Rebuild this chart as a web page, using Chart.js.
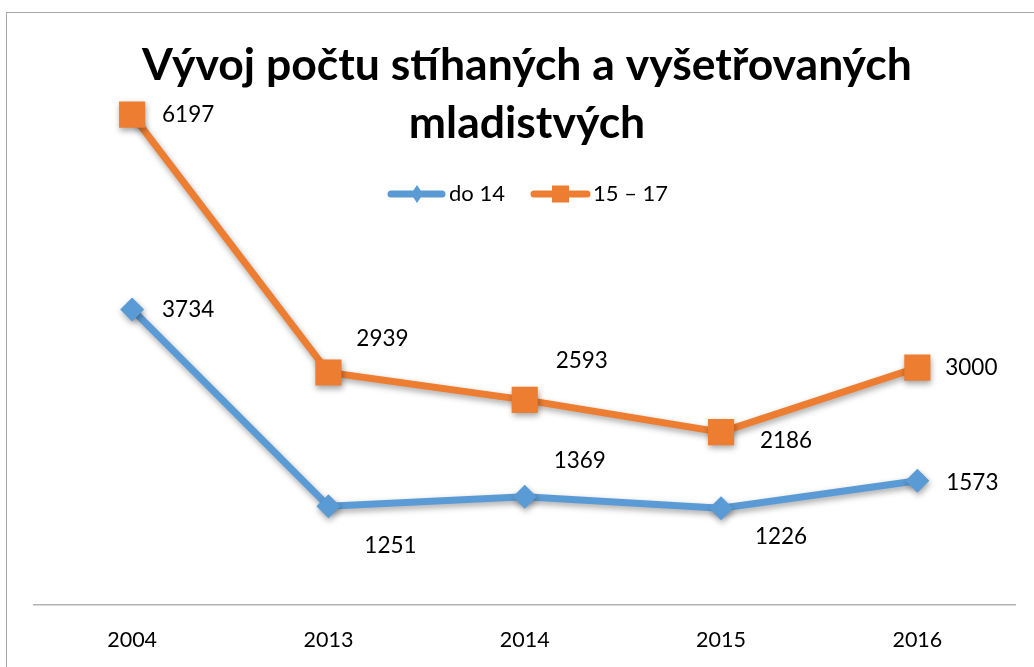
<!DOCTYPE html>
<html>
<head>
<meta charset="utf-8">
<script src="https://cdn.jsdelivr.net/npm/chart.js@4/dist/chart.umd.min.js"></script>
<style>
  html, body { margin: 0; padding: 0; background: #fff; }
  canvas { display: block; }
</style>
</head>
<body>
<canvas id="graf" width="1034" height="667"></canvas>
<script>
// Data
const roky = ["2004", "2013", "2014", "2015", "2016"];
const do14 = [3734, 1251, 1369, 1226, 1573];
const od15do17 = [6197, 2939, 2593, 2186, 3000];
const nazvySerii = ["do 14", "15 – 17"];
const titulek = ["Vývoj počtu stíhaných a vyšetřovaných", "mladistvých"];

// Barvy
const modra = "#5B9BD5";
const oranzova = "#ED7D31";
const pismo = "Lato, 'Open Sans', sans-serif";

// posun popisků od bodu (střed textu)
const posunDo14 = [[56, 0], [62, 40], [55, -36], [60, 29], [55, 2]];
const posun15 = [[56, 0], [54, -34], [57, -39], [65, 9], [54, 0]];

const stinPlugin = {
  id: "stin",
  beforeDatasetsDraw(chart) {
    const ctx = chart.ctx;
    ctx.save();
    ctx.shadowColor = "rgba(0,0,0,0.35)";
    ctx.shadowBlur = 6;
    ctx.shadowOffsetX = 1;
    ctx.shadowOffsetY = 3;
  },
  afterDatasetsDraw(chart) {
    const ctx = chart.ctx;
    ctx.restore();

    // popisky hodnot
    ctx.save();
    ctx.font = "22.5px " + pismo;
    ctx.fillStyle = "#000";
    ctx.textAlign = "center";
    ctx.textBaseline = "middle";
    [posunDo14, posun15].forEach((posun, i) => {
      const meta = chart.getDatasetMeta(i);
      meta.data.forEach((bod, j) => {
        const hodnota = chart.data.datasets[i].data[j];
        ctx.fillText(String(hodnota), bod.x + posun[j][0], bod.y + posun[j][1]);
      });
    });
    ctx.restore();
  },
  afterDraw(chart) {
    const ctx = chart.ctx;
    ctx.save();

    // rámeček grafu
    ctx.strokeStyle = "#A6A6A6";
    ctx.lineWidth = 1;
    ctx.strokeRect(6.5, 12.5, 1200, 800);

    // titulek
    ctx.fillStyle = "#000";
    ctx.font = "bold 44.5px " + pismo;
    ctx.textAlign = "center";
    ctx.textBaseline = "alphabetic";
    ctx.fillText(titulek[0], 527, 80);
    ctx.fillText(titulek[1], 527, 138);

    // legenda
    const y = 194;
    ctx.lineCap = "round";
    ctx.lineWidth = 7;
    ctx.strokeStyle = modra;
    ctx.beginPath(); ctx.moveTo(391, y); ctx.lineTo(442, y); ctx.stroke();
    ctx.fillStyle = modra;
    ctx.beginPath();
    ctx.moveTo(417, y - 9); ctx.lineTo(423, y); ctx.lineTo(417, y + 9); ctx.lineTo(411, y);
    ctx.closePath(); ctx.fill();

    ctx.strokeStyle = oranzova;
    ctx.beginPath(); ctx.moveTo(534, y); ctx.lineTo(587, y); ctx.stroke();
    ctx.fillStyle = oranzova;
    ctx.fillRect(552, y - 8.5, 17, 17);

    ctx.fillStyle = "#000";
    ctx.font = "22px " + pismo;
    ctx.textAlign = "left";
    ctx.textBaseline = "middle";
    ctx.fillText(nazvySerii[0], 449, y);
    ctx.fillText(nazvySerii[1], 593, y);
    ctx.restore();
  }
};

new Chart(document.getElementById("graf"), {
  type: "line",
  data: {
    labels: roky,
    datasets: [
      {
        label: nazvySerii[0],
        data: do14,
        borderColor: modra,
        backgroundColor: modra,
        borderWidth: 7,
        pointStyle: "rectRot",
        pointRadius: 12,
        pointBorderWidth: 0,
        pointBackgroundColor: modra,
        tension: 0
      },
      {
        label: nazvySerii[1],
        data: od15do17,
        borderColor: oranzova,
        backgroundColor: oranzova,
        borderWidth: 7,
        pointStyle: "rect",
        pointRadius: 18.5,
        pointBorderWidth: 0,
        pointBackgroundColor: oranzova,
        tension: 0
      }
    ]
  },
  options: {
    responsive: false,
    animation: false,
    layout: { padding: { left: 34, right: 16, top: 51, bottom: -8 } },
    plugins: {
      legend: { display: false },
      title: { display: false },
      tooltip: { enabled: false }
    },
    scales: {
      x: {
        offset: true,
        grid: { display: false, drawTicks: false },
        border: { display: true, color: "#B4B4B4", width: 1.5 },
        ticks: { color: "#000", padding: 22, font: { family: pismo, size: 21.5 } }
      },
      y: {
        display: false,
        min: 0,
        max: 7000
      }
    }
  },
  plugins: [stinPlugin]
});
</script>
</body>
</html>
